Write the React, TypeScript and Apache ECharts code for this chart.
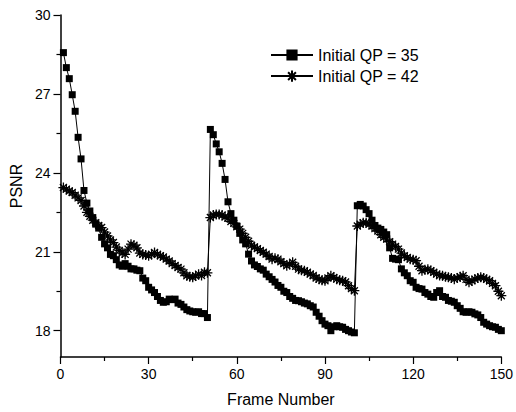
import React, { useEffect, useRef } from "react";
import * as echarts from "echarts";

const qp35: number[] = [
  28.57, 28.0, 27.58, 26.97, 26.34, 25.35, 24.53, 23.33, 22.85, 22.55,
  22.3, 22.05, 21.9, 21.55, 21.3, 21.15, 20.9, 20.85, 20.7, 20.5,
  20.45, 20.55, 20.45, 20.35, 20.35, 20.3, 20.28, 20.0, 19.9, 19.65,
  19.55, 19.45, 19.3, 19.15, 19.08, 19.1, 19.2, 19.18, 19.2, 19.05,
  19.0, 18.9, 18.8, 18.75, 18.72, 18.7, 18.72, 18.65, 18.65, 18.5,
  25.65, 25.45, 25.1, 24.8, 24.36, 23.75, 22.9, 22.45, 22.2, 21.98,
  21.7, 21.45, 21.3, 20.91, 20.65, 20.5, 20.44, 20.35, 20.3, 20.15,
  20.05, 19.95, 19.85, 19.72, 19.65, 19.5, 19.45, 19.3, 19.23, 19.15,
  19.14, 19.1, 19.05, 19.02, 18.95, 18.9, 18.7, 18.55, 18.38, 18.25,
  18.19, 18.0, 18.15, 18.19, 18.15, 18.13, 18.05, 18.0, 17.95, 17.92,
  22.75, 22.8, 22.74, 22.6, 22.45, 22.2, 22.0, 21.9, 21.85, 21.75,
  21.65, 21.15, 20.75, 20.72, 20.7, 20.35, 20.2, 20.09, 19.9, 19.84,
  19.65, 19.6, 19.58, 19.45, 19.39, 19.3, 19.27, 19.45, 19.52, 19.3,
  19.27, 19.15, 19.12, 19.08, 18.95, 18.85, 18.72, 18.7, 18.72, 18.7,
  18.64, 18.6, 18.5, 18.32, 18.25, 18.19, 18.15, 18.13, 18.05, 18.0,
];

const qp42: number[] = [
  23.44, 23.38, 23.31, 23.25, 23.15, 23.05, 22.95, 22.74, 22.5, 22.35,
  22.2, 22.1, 22.0, 21.92, 21.75, 21.6, 21.45, 21.35, 21.18, 21.05,
  20.95, 20.9, 21.1, 21.29, 21.25, 21.15, 20.95, 20.9, 20.88, 20.85,
  20.9, 20.97, 20.9, 20.85, 20.8, 20.72, 20.65, 20.55, 20.48, 20.4,
  20.34, 20.2, 20.09, 20.05, 20.03, 20.08, 20.15, 20.1, 20.22, 20.2,
  22.3, 22.4, 22.42, 22.42, 22.4, 22.32, 22.28, 22.15, 22.08, 21.95,
  21.86, 21.7, 21.55, 21.4, 21.25, 21.18, 21.12, 21.05, 20.98, 20.91,
  20.82, 20.72, 20.75, 20.72, 20.62, 20.55, 20.47, 20.52, 20.6, 20.45,
  20.34, 20.3, 20.28, 20.22, 20.15, 20.1, 20.0, 19.96, 19.92, 19.9,
  20.0, 20.09, 20.02, 19.96, 19.92, 19.9, 19.85, 19.71, 19.6, 19.52,
  21.98, 22.05, 22.1, 22.1, 22.05, 21.98, 21.88, 21.79, 21.65, 21.55,
  21.48, 21.38, 21.29, 21.2, 21.1, 20.95, 20.85, 20.78, 20.72, 20.7,
  20.66, 20.45, 20.28, 20.32, 20.34, 20.28, 20.22, 20.15, 20.1, 20.09,
  20.05, 20.03, 20.0, 19.96, 20.0, 20.05, 20.09, 19.95, 19.84, 19.9,
  19.96, 20.0, 20.03, 20.0, 19.95, 19.9, 19.8, 19.71, 19.5, 19.33,
];

const seriesNames = ["Initial QP = 35", "Initial QP = 42"];
const yMajorTicks = [18, 21, 24, 27, 30];
const yMinorTicks = [19.5, 22.5, 25.5, 28.5];
const xName = "Frame Number";
const yName = "PSNR";

const FONT = "'Liberation Sans', Arial, sans-serif";
const ASTERISK =
  "path://M0,5L10,5M5,0L5,10M1.5,1.5L8.5,8.5M8.5,1.5L1.5,8.5";

export default function App() {
  const ref = useRef<HTMLDivElement>(null);
  useEffect(() => {
    if (!ref.current) return;
    const chart = echarts.init(ref.current, null, { renderer: "svg" });
    const toPairs = (arr: number[]) => arr.map((v, i) => [i + 1, v]);
    chart.setOption({
      animation: false,
      backgroundColor: "#ffffff",
      grid: { left: 58, right: 10, top: 15, bottom: 53, containLabel: false },
      legend: {
        orient: "vertical",
        left: 265,
        top: 42,
        itemWidth: 42,
        itemHeight: 14,
        itemGap: 5,
        itemGap2: 0,
        textStyle: { fontFamily: FONT, fontSize: 16, color: "#000" },
        data: seriesNames,
      },
      xAxis: {
        type: "value",
        min: 0,
        max: 150,
        interval: 30,
        name: xName,
        nameLocation: "middle",
        nameGap: 34,
        nameTextStyle: { fontFamily: FONT, fontSize: 16, color: "#000" },
        axisLine: { lineStyle: { color: "#000", width: 1.5 } },
        axisTick: { length: 7, lineStyle: { color: "#000", width: 1.2 } },
        minorTick: { show: true, splitNumber: 2, length: 4, lineStyle: { color: "#000", width: 1.2 } },
        axisLabel: { fontFamily: FONT, fontSize: 14, color: "#000", margin: 10 },
        splitLine: { show: false },
        minorSplitLine: { show: false },
      },
      yAxis: [
        {
          type: "value",
          min: 17,
          max: 30,
          name: yName,
          nameLocation: "middle",
          nameGap: 35,
          nameTextStyle: { fontFamily: FONT, fontSize: 16, color: "#000" },
          axisLine: { show: true, lineStyle: { color: "#000", width: 1.5 } },
          axisTick: { show: true, length: 7, customValues: yMajorTicks, lineStyle: { color: "#000", width: 1.2 } },
          axisLabel: { fontFamily: FONT, fontSize: 14, color: "#000", margin: 10, customValues: yMajorTicks },
          splitLine: { show: false },
        },
        {
          type: "value",
          min: 17,
          max: 30,
          position: "left",
          axisLine: { show: false },
          axisTick: { show: true, length: 4, customValues: yMinorTicks, lineStyle: { color: "#000", width: 1.2 } },
          axisLabel: { show: false },
          splitLine: { show: false },
        },
      ],
      series: [
        {
          name: seriesNames[0],
          type: "line",
          data: toPairs(qp35),
          symbol: "rect",
          symbolSize: 7,
          itemStyle: { color: "#000" },
          lineStyle: { color: "#000", width: 1 },
        },
        {
          name: seriesNames[1],
          type: "line",
          data: toPairs(qp42),
          symbol: ASTERISK,
          symbolSize: 10,
          itemStyle: { color: "none", borderColor: "#000", borderWidth: 1.3 },
          lineStyle: { color: "#000", width: 1 },
        },
      ],
    });
    return () => chart.dispose();
  }, []);
  return (
    <div
      ref={ref}
      style={{ position: "fixed", left: 0, top: 0, width: 516, height: 412 }}
    />
  );
}
